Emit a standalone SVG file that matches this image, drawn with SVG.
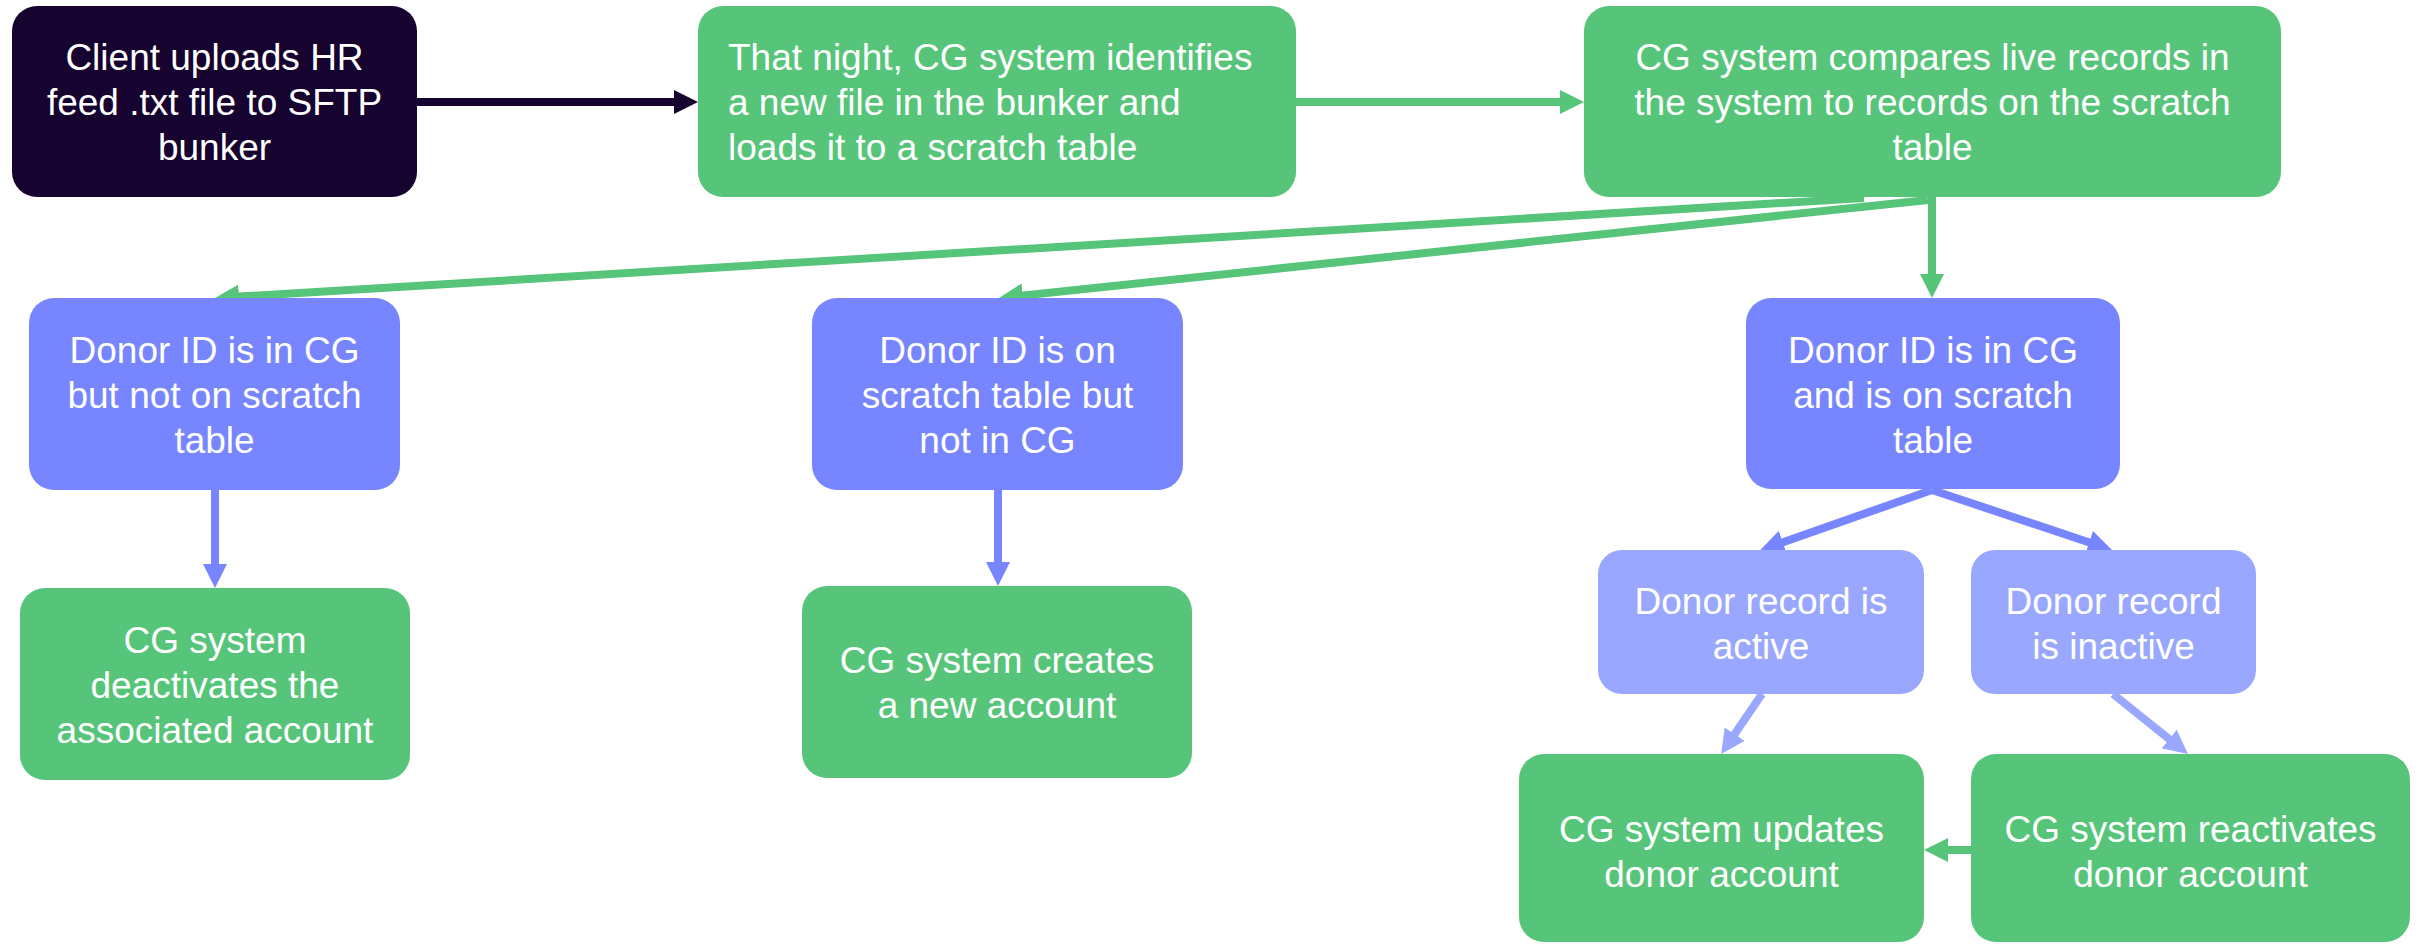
<svg xmlns="http://www.w3.org/2000/svg" width="2419" height="944" viewBox="0 0 2419 944">
<style>
text{font-family:"Liberation Sans",Arial,sans-serif;font-size:37px;fill:#ffffff;}
.c{text-anchor:middle;}
.dark{fill:#16032F;}
.green{fill:#56C57A;}
.blue{fill:#7785FF;}
.light{fill:#9AA7FF;}
.e{fill:none;stroke-width:8;}
</style>
<defs>
<marker id="aDark" markerUnits="userSpaceOnUse" markerWidth="24" markerHeight="24" refX="12" refY="12" orient="auto"><path d="M0,0 L24,12 L0,24 z" fill="#16032F"/></marker>
<marker id="aGreen" markerUnits="userSpaceOnUse" markerWidth="24" markerHeight="24" refX="12" refY="12" orient="auto"><path d="M0,0 L24,12 L0,24 z" fill="#56C57A"/></marker>
<marker id="aBlue" markerUnits="userSpaceOnUse" markerWidth="24" markerHeight="24" refX="12" refY="12" orient="auto"><path d="M0,0 L24,12 L0,24 z" fill="#7785FF"/></marker>
<marker id="aLight" markerUnits="userSpaceOnUse" markerWidth="24" markerHeight="24" refX="12" refY="12" orient="auto"><path d="M0,0 L24,12 L0,24 z" fill="#9AA7FF"/></marker>
</defs>
<rect width="2419" height="944" fill="#ffffff"/>
<g id="connectors">
<line class="e" stroke="#16032F" x1="417" y1="102" x2="686" y2="102" marker-end="url(#aDark)"/>
<line class="e" stroke="#56C57A" x1="1296" y1="102" x2="1572" y2="102" marker-end="url(#aGreen)"/>
<line class="e" stroke="#56C57A" x1="1864" y1="198" x2="227" y2="297.3" marker-end="url(#aGreen)"/>
<line class="e" stroke="#56C57A" x1="1928" y1="200" x2="1010.9" y2="296.7" marker-end="url(#aGreen)"/>
<line class="e" stroke="#56C57A" x1="1932" y1="197" x2="1932" y2="286" marker-end="url(#aGreen)"/>
<line class="e" stroke="#7785FF" x1="215" y1="490" x2="215" y2="576" marker-end="url(#aBlue)"/>
<line class="e" stroke="#7785FF" x1="998" y1="490" x2="998" y2="574" marker-end="url(#aBlue)"/>
<line class="e" stroke="#7785FF" x1="1932" y1="490" x2="1771.4" y2="546.2" marker-end="url(#aBlue)"/>
<line class="e" stroke="#7785FF" x1="1932" y1="490" x2="2100.6" y2="546.2" marker-end="url(#aBlue)"/>
<line class="e" stroke="#9AA7FF" x1="1762" y1="694" x2="1727.9" y2="744.1" marker-end="url(#aLight)"/>
<line class="e" stroke="#9AA7FF" x1="2113" y1="694" x2="2178.6" y2="746.6" marker-end="url(#aLight)"/>
<line class="e" stroke="#56C57A" x1="1971" y1="850" x2="1936" y2="850" marker-end="url(#aGreen)"/>
</g>
<g id="n1">
<rect class="dark" x="12" y="6" width="405" height="191" rx="25"/>
<text class="c" x="214.5" y="70">Client uploads HR</text>
<text class="c" x="214.5" y="115">feed .txt file to SFTP</text>
<text class="c" x="214.5" y="160">bunker</text>
</g>
<g id="n2">
<rect class="green" x="698" y="6" width="598" height="191" rx="25"/>
<text x="728" y="70">That night, CG system identifies</text>
<text x="728" y="115">a new file in the bunker and</text>
<text x="728" y="160">loads it to a scratch table</text>
</g>
<g id="n3">
<rect class="green" x="1584" y="6" width="697" height="191" rx="25"/>
<text class="c" x="1932.5" y="70">CG system compares live records in</text>
<text class="c" x="1932.5" y="115">the system to records on the scratch</text>
<text class="c" x="1932.5" y="160">table</text>
</g>
<g id="n4">
<rect class="blue" x="29" y="298" width="371" height="192" rx="25"/>
<text class="c" x="214.5" y="363">Donor ID is in CG</text>
<text class="c" x="214.5" y="408">but not on scratch</text>
<text class="c" x="214.5" y="453">table</text>
</g>
<g id="n5">
<rect class="blue" x="812" y="298" width="371" height="192" rx="25"/>
<text class="c" x="997.5" y="363">Donor ID is on</text>
<text class="c" x="997.5" y="408">scratch table but</text>
<text class="c" x="997.5" y="453">not in CG</text>
</g>
<g id="n6">
<rect class="blue" x="1746" y="298" width="374" height="191" rx="25"/>
<text class="c" x="1933" y="363">Donor ID is in CG</text>
<text class="c" x="1933" y="408">and is on scratch</text>
<text class="c" x="1933" y="453">table</text>
</g>
<g id="n7">
<rect class="green" x="20" y="588" width="390" height="192" rx="25"/>
<text class="c" x="215" y="653">CG system</text>
<text class="c" x="215" y="698">deactivates the</text>
<text class="c" x="215" y="743">associated account</text>
</g>
<g id="n8">
<rect class="green" x="802" y="586" width="390" height="192" rx="25"/>
<text class="c" x="997" y="673">CG system creates</text>
<text class="c" x="997" y="718">a new account</text>
</g>
<g id="n9">
<rect class="light" x="1598" y="550" width="326" height="144" rx="24"/>
<text class="c" x="1761" y="614">Donor record is</text>
<text class="c" x="1761" y="659">active</text>
</g>
<g id="n10">
<rect class="light" x="1971" y="550" width="285" height="144" rx="24"/>
<text class="c" x="2113.5" y="614">Donor record</text>
<text class="c" x="2113.5" y="659">is inactive</text>
</g>
<g id="n11">
<rect class="green" x="1519" y="754" width="405" height="188" rx="25"/>
<text class="c" x="1721.5" y="842">CG system updates</text>
<text class="c" x="1721.5" y="887">donor account</text>
</g>
<g id="n12">
<rect class="green" x="1971" y="754" width="439" height="188" rx="25"/>
<text class="c" x="2190.5" y="842">CG system reactivates</text>
<text class="c" x="2190.5" y="887">donor account</text>
</g>
</svg>
